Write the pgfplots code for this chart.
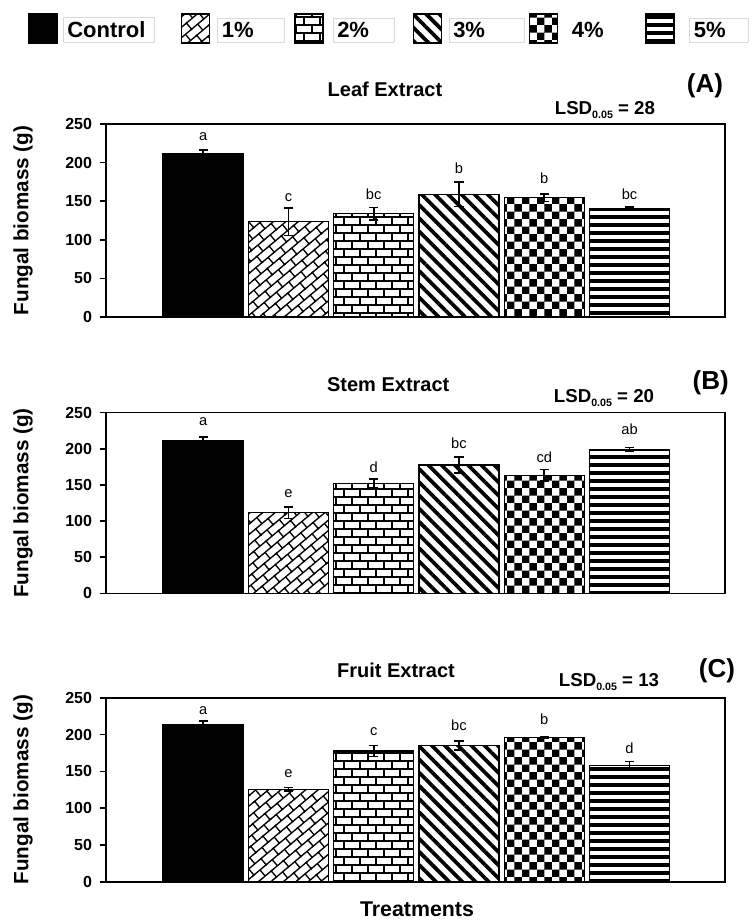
\documentclass[border=0pt]{standalone}
\usepackage{fontspec}
\setmainfont{Liberation Sans}
\usepackage{pgfplots}
\pgfplotsset{compat=1.18}
\usetikzlibrary{patterns,patterns.meta}

% horizontal bricks (2%)
\pgfdeclarepattern{
  name=hbrick, type=uncolored,
  bottom left={\pgfpoint{-1pt}{-1pt}}, top right={\pgfpoint{13pt}{13pt}},
  tile size={\pgfpoint{12pt}{12pt}},
  code={
    \pgfsetlinewidth{1.6pt}
    \pgfpathmoveto{\pgfpoint{-1pt}{0pt}}\pgfpathlineto{\pgfpoint{13pt}{0pt}}
    \pgfpathmoveto{\pgfpoint{-1pt}{6pt}}\pgfpathlineto{\pgfpoint{13pt}{6pt}}
    \pgfpathmoveto{\pgfpoint{0pt}{0pt}}\pgfpathlineto{\pgfpoint{0pt}{6pt}}
    \pgfpathmoveto{\pgfpoint{6pt}{6pt}}\pgfpathlineto{\pgfpoint{6pt}{12pt}}
    \pgfusepath{stroke}
  }
}
% tilted bricks (1%)
\pgfdeclarepattern{
  name=dbrick, type=uncolored,
  bottom left={\pgfpoint{-1pt}{-1pt}}, top right={\pgfpoint{13pt}{13pt}},
  tile size={\pgfpoint{12pt}{12pt}},
  tile transformation={\pgftransformrotate{40}},
  code={
    \pgfsetlinewidth{1pt}
    \pgfpathmoveto{\pgfpoint{-1pt}{0pt}}\pgfpathlineto{\pgfpoint{13pt}{0pt}}
    \pgfpathmoveto{\pgfpoint{-1pt}{6pt}}\pgfpathlineto{\pgfpoint{13pt}{6pt}}
    \pgfpathmoveto{\pgfpoint{0pt}{0pt}}\pgfpathlineto{\pgfpoint{0pt}{6pt}}
    \pgfpathmoveto{\pgfpoint{6pt}{6pt}}\pgfpathlineto{\pgfpoint{6pt}{12pt}}
    \pgfusepath{stroke}
  }
}
% checkerboard (4%)
\pgfdeclarepattern{
  name=checker, type=uncolored,
  bottom left={\pgfpointorigin}, top right={\pgfpoint{11.2pt}{11.2pt}},
  tile size={\pgfpoint{11.2pt}{11.2pt}},
  code={
    \pgfpathrectangle{\pgfpointorigin}{\pgfpoint{5.6pt}{5.6pt}}
    \pgfpathrectangle{\pgfpoint{5.6pt}{5.6pt}}{\pgfpoint{5.6pt}{5.6pt}}
    \pgfusepath{fill}
  }
}

\setlength{\fboxsep}{3pt}
\setlength{\fboxrule}{0.4pt}
\newcommand{\lbox}[2]{\fcolorbox{black!15}{white}{\makebox[\dimexpr#1-6.8pt][l]{#2}}}
\newcommand{\nbox}[2]{\fcolorbox{white}{white}{\makebox[\dimexpr#1-6.8pt][l]{#2}}}
\newcommand{\lsd}[1]{LSD\raisebox{-2.5pt}{\fontsize{8}{8}\selectfont 0.05} = #1}

\pgfplotsset{
  panel/.style={
    scale only axis, width=464.25pt, clip=false,
    xmin=-1.14, xmax=6.12, ymin=0, ymax=250,
    ytick={0,50,...,250}, xtick=\empty, ytick pos=left,
    tick align=outside, major tick length=4.5pt,
    tick style={black, line width=1.2pt},
    axis line style={line width=1.2pt},
    /pgf/number format/assume math mode=true,
    yticklabel style={font=\fontsize{12}{12}\selectfont\bfseries, xshift=-2.5pt},
    ylabel={Fungal biomass (g)},
    y label style={at={(axis description cs:-0.134,0.5)}, anchor=center, rotate=0,
      font=\fontsize{15.5}{15.5}\selectfont\bfseries},
  },
  bar/.style={ybar, bar width=0.94, bar shift=0pt, draw=black, line width=1pt,
    legend image code/.code={\draw[##1, line width=1.2pt] (0pt,-11pt) rectangle (21pt,11pt);},
    error bars/y dir=both, error bars/y explicit,
    error bars/error bar style={line width=1.2pt, black},
    error bars/error mark options={rotate=90, mark size=3.4pt, line width=1.2pt, black}},
  c0/.style={bar, fill=black},
  c1/.style={bar, pattern=dbrick, pattern color=black},
  c2/.style={bar, pattern=hbrick, pattern color=black},
  c3/.style={bar, pattern={Lines[angle=-45,distance=7pt,line width=2.8pt]}, pattern color=black},
  c4/.style={bar, pattern=checker, pattern color=black},
  c5/.style={bar, pattern={Lines[angle=0,distance=6pt,line width=3pt]}, pattern color=black},
  letters/.style={forget plot, draw=none, mark=none, nodes near coords,
    point meta=explicit symbolic,
    every node near coord/.append style={anchor=center, inner sep=0pt,
      font=\fontsize{11}{11}\selectfont}},
}

\begin{document}
\begin{tikzpicture}
\useasboundingbox (0,0) rectangle (564.75pt,-690.75pt);

% (A) Leaf extract
\begin{axis}[panel, at={(79.5pt,-237.75pt)}, anchor=south west, height=144.75pt,
  legend columns=6,
  legend style={at={(-0.1257,1.4947)}, anchor=west, draw=none, fill=none,
    inner sep=0pt, nodes={inner sep=0pt},
    font=\fontsize{16.5}{16.5}\selectfont\bfseries},
  /tikz/column 1/.append style={column sep=3.5pt},
  /tikz/column 2/.append style={column sep=19.5pt},
  /tikz/column 3/.append style={column sep=5.3pt},
  /tikz/column 4/.append style={column sep=7pt},
  /tikz/column 5/.append style={column sep=6.8pt},
  /tikz/column 6/.append style={column sep=14pt},
  /tikz/column 7/.append style={column sep=4.8pt},
  /tikz/column 8/.append style={column sep=3pt},
  /tikz/column 9/.append style={column sep=6.8pt},
  /tikz/column 10/.append style={column sep=26.5pt},
  /tikz/column 11/.append style={column sep=10.8pt}]
\addplot[c0] coordinates {(0,211) +- (0,5)};
\addplot[c1] coordinates {(1,123.5) +- (0,18)};
\addplot[c2] coordinates {(2,134) +- (0,8)};
\addplot[c3] coordinates {(3,159) +- (0,16)};
\addplot[c4] coordinates {(4,154.5) +- (0,5)};
\addplot[c5] coordinates {(5,140.5) +- (0,2)};
\addplot[letters] coordinates {(0,233.7)[a] (1,155)[c] (2,158.7)[bc] (3,193)[b] (4,180)[b] (5,158.7)[bc]};
\legend{\lbox{69pt}{Control}, \lbox{50.5pt}{1\%}, \lbox{46pt}{2\%}, \lbox{57pt}{3\%}, \nbox{32pt}{4\%}, \lbox{44pt}{5\%}}
\node[font=\fontsize{15}{15}\selectfont\bfseries] at (axis description cs:0.4507,1.1813) {Leaf Extract};
\node[font=\fontsize{14}{14}\selectfont\bfseries] at (axis description cs:0.806,1.0725) {\lsd{28}};
\node[font=\fontsize{19.5}{19.5}\selectfont\bfseries] at (axis description cs:0.9677,1.197) {(A)};
\end{axis}

% (B) Stem extract
\begin{axis}[panel, at={(79.5pt,-445pt)}, anchor=south west, height=135.5pt]
\addplot[c0] coordinates {(0,211) +- (0,5)};
\addplot[c1] coordinates {(1,111.5) +- (0,8)};
\addplot[c2] coordinates {(2,152) +- (0,6)};
\addplot[c3] coordinates {(3,177.5) +- (0,11)};
\addplot[c4] coordinates {(4,163.5) +- (0,8)};
\addplot[c5] coordinates {(5,199.5) +- (0,2.5)};
\addplot[letters] coordinates {(0,237)[a] (1,138)[e] (2,174.8)[d] (3,207.6)[bc] (4,188.7)[cd] (5,227)[ab]};
\node[font=\fontsize{15}{15}\selectfont\bfseries] at (axis description cs:0.456,1.153) {Stem Extract};
\node[font=\fontsize{14}{14}\selectfont\bfseries] at (axis description cs:0.8045,1.081) {\lsd{20}};
\node[font=\fontsize{19.5}{19.5}\selectfont\bfseries] at (axis description cs:0.977,1.164) {(B)};
\end{axis}

% (C) Fruit extract
\begin{axis}[panel, at={(79.5pt,-661.3pt)}, anchor=south west, height=138pt]
\addplot[c0] coordinates {(0,213) +- (0,5)};
\addplot[c1] coordinates {(1,125.5) +- (0,2.5)};
\addplot[c2] coordinates {(2,177.5) +- (0,7.5)};
\addplot[c3] coordinates {(3,185) +- (0,6)};
\addplot[c4] coordinates {(4,196) +- (0,1)};
\addplot[c5] coordinates {(5,157.5) +- (0,6)};
\addplot[letters] coordinates {(0,233)[a] (1,146.7)[e] (2,204)[c] (3,213)[bc] (4,220.5)[b] (5,180.7)[d]};
\node[font=\fontsize{15}{15}\selectfont\bfseries] at (axis description cs:0.4685,1.151) {Fruit Extract};
\node[font=\fontsize{14}{14}\selectfont\bfseries] at (axis description cs:0.8126,1.0855) {\lsd{13}};
\node[font=\fontsize{19.5}{19.5}\selectfont\bfseries] at (axis description cs:0.987,1.1453) {(C)};
\node[font=\fontsize{16}{16}\selectfont\bfseries] at (axis description cs:0.5024,-0.15) {Treatments};
\end{axis}
\end{tikzpicture}
\end{document}
